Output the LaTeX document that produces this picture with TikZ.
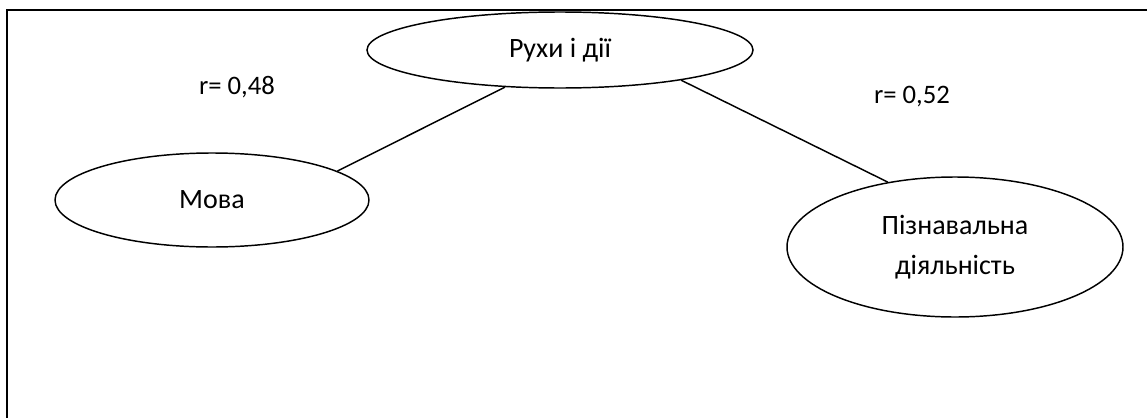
\documentclass[tikz,border=0pt]{standalone}
\usepackage{fontspec}
\setmainfont{Carlito}
\usetikzlibrary{shapes.geometric}
\begin{document}
\begin{tikzpicture}[x=0.75pt,y=-0.75pt,
  oval/.style={draw,ellipse,line width=1.1pt,inner sep=0pt,font=\fontsize{21}{30}\selectfont,align=center},
  lbl/.style={font=\fontsize{20}{24}\selectfont,inner sep=0pt},
  link/.style={line width=1.1pt}]
\useasboundingbox (0,0) rectangle (1147,418);
\draw[line width=1.6pt] (7,418) -- (7,10) -- (1147,10);
\node[oval,minimum width=386*0.75pt,minimum height=76*0.75pt] (top) at (560,50) {Рухи і дії};
\node[oval,minimum width=314*0.75pt,minimum height=94*0.75pt] (mova) at (212,200) {Мова};
\node[oval,minimum width=336*0.75pt,minimum height=140*0.75pt] (pizn) at (955,247) {Пізнавальна\\діяльність};
\node[lbl] (r1) at (237,87) {r= 0,48};
\node[lbl] (r2) at (912,97) {r= 0,52};
\draw[link] (top.214.6) -- (mova.13);
\draw[link] (top.346) -- (pizn.136);
\end{tikzpicture}
\end{document}
